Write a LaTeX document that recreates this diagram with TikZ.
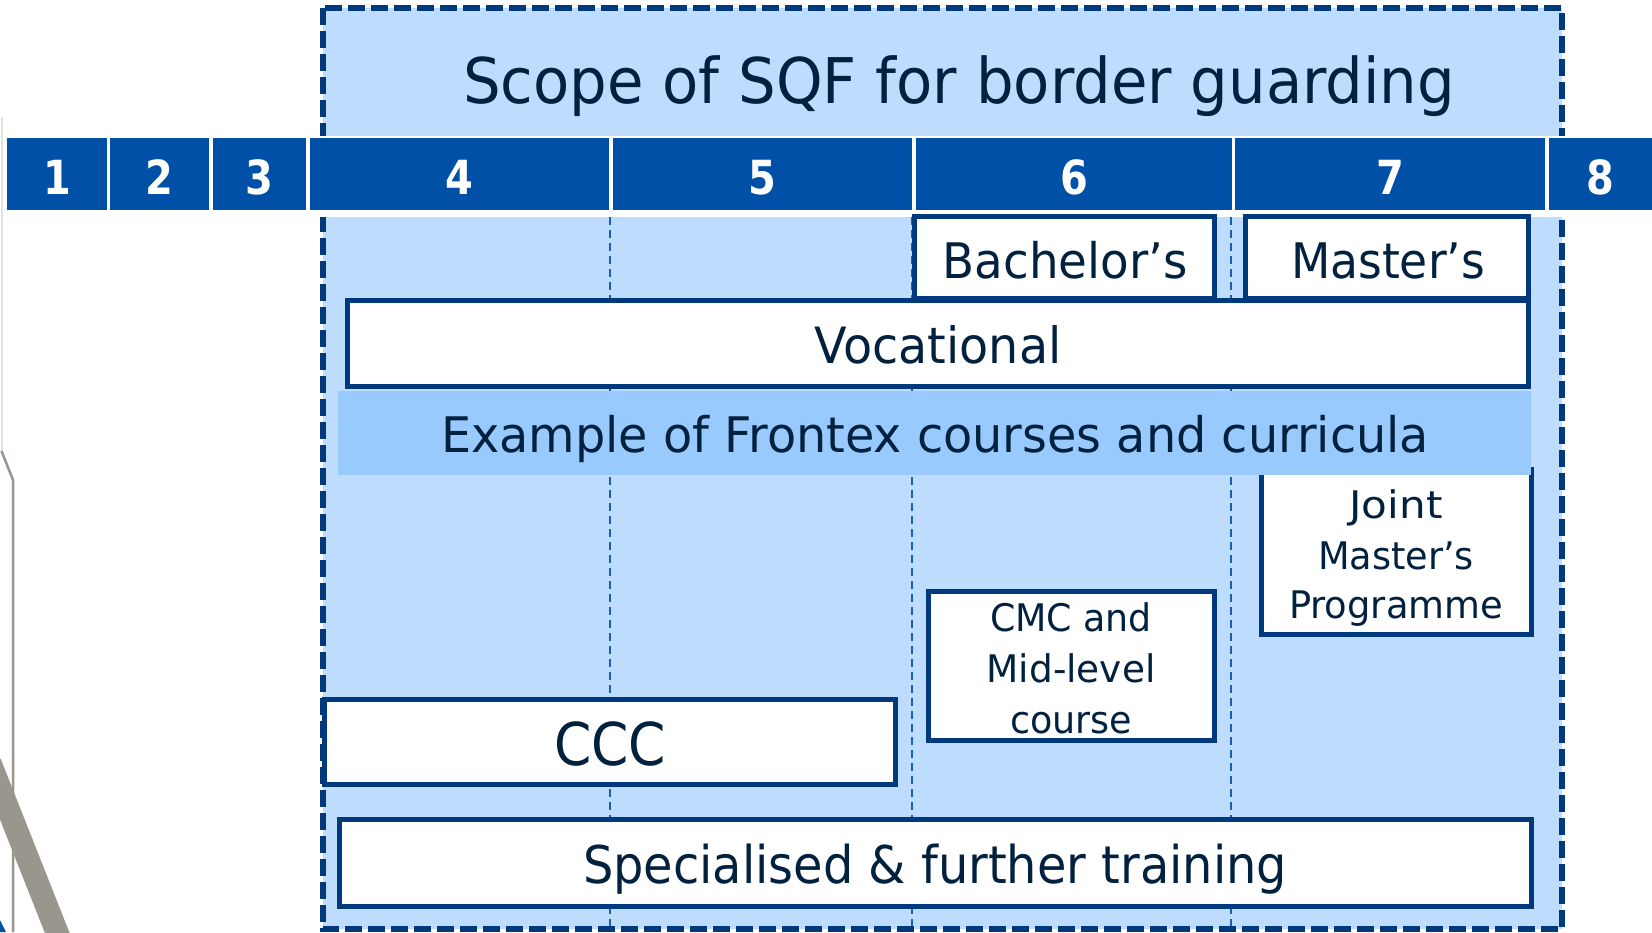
\documentclass[tikz,border=0pt]{standalone}
\usepackage{fontspec}
\setmainfont{DejaVu Sans}
\usepackage{graphicx}
\definecolor{navy}{HTML}{003A7D}
\definecolor{hdr}{HTML}{0050A8}
\definecolor{lite}{HTML}{BEDCFE}
\definecolor{bandc}{HTML}{99CAFD}
\definecolor{ink}{HTML}{02213F}
\definecolor{colline}{HTML}{1A5FB4}
\definecolor{graylin}{HTML}{9A958D}
\definecolor{graylite}{HTML}{E4E1DC}
\newlength\fitlen
\newcommand\fitw[2]{\settowidth\fitlen{#2}\pgfmathsetmacro\fitsx{#1/\fitlen}\scalebox{\fitsx}[1]{#2}}
\newcommand\fsz[1]{\fontsize{#1}{#1}\selectfont}
\begin{document}
\begin{tikzpicture}[x=1pt,y=-1pt,
  boxst/.style={draw=navy, line width=5pt, fill=white},
  txt/.style={inner sep=0pt, text=ink, anchor=base},
  numtxt/.style={inner sep=0pt, text=white, anchor=base},
  cellst/.style={fill=hdr},
  coldash/.style={draw=colline, line width=1.8pt, dash pattern=on 8pt off 5pt},
  outerdash/.style={draw=navy, line width=5.5pt, dash pattern=on 17pt off 6pt}]
\useasboundingbox (0,0) rectangle (1652,932);
\fill[white] (0,0) rectangle (1652,932);
% scope area
\fill[lite] (323,8) rectangle (1562,929);
\draw[coldash] (610,217) -- (610,929);
\draw[coldash] (912,217) -- (912,929);
\draw[coldash] (1231,217) -- (1231,929);
\draw[outerdash] (323,8) rectangle (1562,929);
% header band
\fill[white] (0,135.5) rectangle (1652,217);
\fill[cellst] (7,138) rectangle (107,210);
\fill[cellst] (110,138) rectangle (209,210);
\fill[cellst] (213,138) rectangle (306,210);
\fill[cellst] (310,138) rectangle (609,210);
\fill[cellst] (613,138) rectangle (912,210);
\fill[cellst] (916,138) rectangle (1232,210);
\fill[cellst] (1235,138) rectangle (1545,210);
\fill[cellst] (1549,138) rectangle (1652,210);
\node[numtxt] (n1) at (57,194) {\fsz{47}\bfseries\scalebox{0.85}[1]{1}};
\node[numtxt] (n2) at (159.5,194) {\fsz{47}\bfseries\scalebox{0.85}[1]{2}};
\node[numtxt] (n3) at (259.5,194) {\fsz{47}\bfseries\scalebox{0.85}[1]{3}};
\node[numtxt] (n4) at (459.5,194) {\fsz{47}\bfseries\scalebox{0.85}[1]{4}};
\node[numtxt] (n5) at (762.5,194) {\fsz{47}\bfseries\scalebox{0.85}[1]{5}};
\node[numtxt] (n6) at (1074,194) {\fsz{47}\bfseries\scalebox{0.85}[1]{6}};
\node[numtxt] (n7) at (1390,194) {\fsz{47}\bfseries\scalebox{0.85}[1]{7}};
\node[numtxt] (n8) at (1600,194) {\fsz{47}\bfseries\scalebox{0.85}[1]{8}};
% title
\node[txt] (title) at (959,103) {\fsz{63}\fitw{992}{Scope of SQF for border guarding}};
% boxes
\draw[boxst] (914.5,216.5) rectangle (1214.5,298);
\draw[boxst] (1245.5,216.5) rectangle (1528.5,298);
\draw[boxst] (347.5,300.5) rectangle (1528.5,386.5);
\draw[boxst] (1261.5,469) rectangle (1531.5,634.5);
\fill[bandc] (338,391) rectangle (1531,475);
\draw[boxst] (928.5,591.5) rectangle (1214.5,740.5);
\draw[boxst] (324.5,699.5) rectangle (895.5,784.5);
\draw[boxst] (339.5,819.5) rectangle (1531.5,906.5);
% texts
\node[txt] (tbach) at (1065,278) {\fsz{49}\fitw{245}{Bachelor’s}};
\node[txt] (tmast) at (1388,278) {\fsz{49}\fitw{194}{Master’s}};
\node[txt] (tvoc) at (938,363) {\fsz{50}\fitw{247}{Vocational}};
\node[txt] (texa) at (935,452) {\fsz{49}\fitw{988}{Example of Frontex courses and curricula}};
\node[txt] (tj1) at (1396,518) {\fsz{38}\fitw{93}{Joint}};
\node[txt] (tj2) at (1396,569) {\fsz{38}\fitw{156}{Master’s}};
\node[txt] (tj3) at (1396,618) {\fsz{38}\fitw{214}{Programme}};
\node[txt] (tc1) at (1071,631) {\fsz{38}\fitw{162}{CMC and}};
\node[txt] (tc2) at (1071,682) {\fsz{38}\fitw{169}{Mid-level}};
\node[txt] (tc3) at (1071,733) {\fsz{38}\fitw{122}{course}};
\node[txt] (tccc) at (610,765) {\fsz{59}\fitw{112}{CCC}};
\node[txt] (tspec) at (935,883) {\fsz{52}\fitw{704}{Specialised \& further training}};
% left gray lines
\draw[graylite, line width=2pt] (1.5,117) -- (1.5,451);
\draw[graylin, line width=2.5pt] (1.5,451) -- (13,480) -- (13,932);
\draw[graylin, line width=23pt] (-10,763) -- (62,945);
\fill[hdr] (0,920) -- (6,932) -- (0,932) -- cycle;
\end{tikzpicture}
\end{document}
